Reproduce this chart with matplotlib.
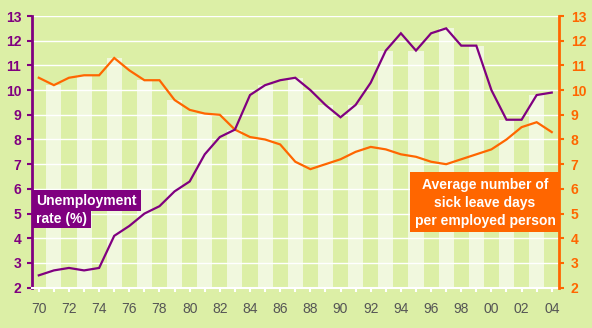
import matplotlib
matplotlib.use("Agg")
import matplotlib.pyplot as plt
from matplotlib.patches import Rectangle
import numpy as np

years = list(range(1970, 2005))
unemployment = [2.5, 2.7, 2.8, 2.7, 2.8, 4.1, 4.5, 5.0, 5.3, 5.9,
                6.3, 7.4, 8.1, 8.4, 9.8, 10.2, 10.4, 10.5, 10.0, 9.4,
                8.9, 9.4, 10.3, 11.6, 12.3, 11.6, 12.3, 12.5, 11.8, 11.8,
                10.0, 8.8, 8.8, 9.8, 9.9]
sick_leave = [10.5, 10.2, 10.5, 10.6, 10.6, 11.3, 10.8, 10.4, 10.4, 9.6,
              9.2, 9.05, 9.0, 8.4, 8.1, 8.0, 7.8, 7.1, 6.8, 7.0,
              7.2, 7.5, 7.7, 7.6, 7.4, 7.3, 7.1, 7.0, 7.2, 7.4,
              7.6, 8.0, 8.5, 8.7, 8.3]
xtick_years = list(range(1970, 2005, 2))
xtick_labels = [f"{y % 100:02d}" for y in xtick_years]
yticks = list(range(2, 14))

BG = "#dcefa6"
STRIPE = "#f1f8de"
PURPLE = "#800080"
ORANGE = "#ff6600"

W, H = 592, 328
fig = plt.figure(figsize=(W / 100, H / 100), dpi=100)
fig.patch.set_facecolor(BG)

def fx(x):
    return x / W

def fy(y):
    return 1 - y / H

ax = fig.add_axes([fx(32), fy(287.7), fx(559.3) - fx(32), fy(16) - fy(287.7)])
ax.set_facecolor(BG)
ax.set_xlim(1969.55, 2004.5)
ax.set_ylim(2, 13)

# light stripes (odd years) up to the higher of the two series
odd = [i for i, y in enumerate(years) if y % 2 == 1]
ax.bar([years[i] for i in odd],
       [max(unemployment[i], sick_leave[i]) - 2 for i in odd],
       bottom=2, width=1.0, color=STRIPE, zorder=1, linewidth=0)

for v in yticks[1:]:
    ax.axhline(v, color="white", lw=1.0, zorder=2)

ax.plot(years, sick_leave, color=ORANGE, lw=1.6, zorder=4, solid_joinstyle="miter")
ax.plot(years, unemployment, color=PURPLE, lw=1.6, zorder=5, solid_joinstyle="miter")

# spines
for s in ["top", "right"]:
    ax.spines[s].set_visible(False)
ax.spines["left"].set_color(PURPLE)
ax.spines["left"].set_linewidth(2)
ax.spines["bottom"].set_color("white")
ax.spines["bottom"].set_linewidth(1.5)

ax.set_yticks(yticks)
ax.set_yticklabels([str(v) for v in yticks])
ax.tick_params(axis="y", colors=PURPLE, length=3.8, width=1.5, pad=4, labelsize=10)
for t in ax.get_yticklabels():
    t.set_fontweight("bold")
    t.set_fontfamily("Liberation Sans")

ax.set_xticks(xtick_years)
ax.set_xticklabels(xtick_labels)
ax.set_xticks(years, minor=True)
ax.tick_params(axis="x", which="both", color="white", length=3, width=1.5,
               pad=7, labelsize=10, labelcolor="#555555")
for t in ax.get_xticklabels():
    t.set_fontfamily("Liberation Sans")

ax2 = ax.twinx()
ax2.set_ylim(2, 13)
ax2.set_yticks(yticks)
ax2.set_yticklabels([str(v) for v in yticks])
for s in ["top", "left", "bottom"]:
    ax2.spines[s].set_visible(False)
ax2.spines["right"].set_color(ORANGE)
ax2.spines["right"].set_linewidth(2)
ax2.tick_params(axis="y", colors=ORANGE, length=3.8, width=1.5, pad=4.5, labelsize=10)
for t in ax2.get_yticklabels():
    t.set_fontweight("bold")
    t.set_fontfamily("Liberation Sans")

# Unemployment label (two highlight boxes)
def rect(x0, y0, x1, y1, color):
    fig.patches.append(Rectangle((fx(x0), fy(y1)), fx(x1) - fx(x0), fy(y0) - fy(y1),
                                 transform=fig.transFigure, color=color, zorder=10, lw=0))

rect(31.5, 190, 141, 210.5, PURPLE)
rect(31.5, 210, 90.7, 228.3, PURPLE)
fig.text(fx(36), fy(200.5), "Unemployment", color="white", fontsize=10, fontweight="bold",
         family="Liberation Sans", ha="left", va="center", zorder=11)
fig.text(fx(36), fy(218.5), "rate (%)", color="white", fontsize=10, fontweight="bold",
         family="Liberation Sans", ha="left", va="center", zorder=11)

# Sick leave label
rect(410, 172.3, 559.3, 231.7, ORANGE)
for txt, yc in [("Average number of", 185.5), ("sick leave days", 203),
                ("per employed person", 220.5)]:
    fig.text(fx(485), fy(yc), txt, color="white", fontsize=10, fontweight="bold",
             family="Liberation Sans", ha="center", va="center", zorder=11)

fig.savefig("out.png", dpi=100, facecolor=BG)
